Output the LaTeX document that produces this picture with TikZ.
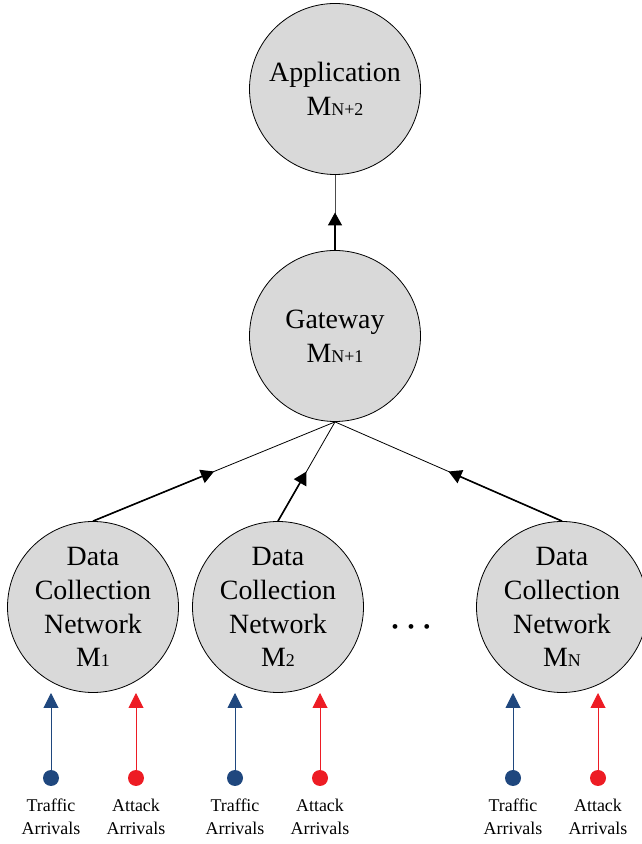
\documentclass[tikz,border=0pt]{standalone}
\usepackage{fontspec}
\setmainfont{Liberation Serif}
\usepackage{tikz}
\usetikzlibrary{arrows.meta,calc,positioning}
\definecolor{nodegray}{RGB}{217,217,217}
\definecolor{trafblue}{RGB}{31,71,126}
\definecolor{attred}{RGB}{237,28,36}
\tikzset{
  station/.style = {circle, draw=black, line width=0.8bp, fill=nodegray,
    minimum size=171bp, inner sep=0pt, align=center,
    font=\fontsize{28}{34}\selectfont},% a queue station
  src/.style = {circle, fill=#1, minimum size=16bp, inner sep=0pt},% arrival source
  srclabel/.style = {align=center, font=\fontsize{18}{23}\selectfont},% arrival label
  feed/.style = {line width=1bp, -{Triangle[length=15bp,width=15bp]}},% arrival arrow
  thinlink/.style = {line width=0.8bp},% link to upper station
  thicklink/.style = {line width=1.6bp, -{Triangle[length=13bp,width=14bp]}}% half arrow
}
\newcommand{\sub}[1]{{\fontsize{18}{18}\selectfont #1}}
\begin{document}
\begin{tikzpicture}[x=1bp,y=1bp]
  \useasboundingbox (0,0) rectangle (642,844);
  % stations
  \node [station] (app) at (335,755) {Application\\M\sub{N+2}};
  \node [station] (gw) at (335,508) {Gateway\\M\sub{N+1}};
  \node [station] (dc1) at (93,237) {Data\\Collection\\Network\\M\sub{1}};
  \node [station] (dc2) at (278,237) {Data\\Collection\\Network\\M\sub{2}};
  \node [station] (dcn) at (562,237) {Data\\Collection\\Network\\M\sub{N}};
  \node (dots) at (411,215) {\fontsize{20}{20}\selectfont
    \textbullet\hspace{9bp}\textbullet\hspace{9bp}\textbullet};
  % links
  \draw [thinlink, black!70] (gw.north) -- (app.south);
  \draw [thicklink] (gw.north) -- ($(gw.north)!0.5!(app.south)$);
  \foreach \n in {dc1,dc2,dcn}{
    \draw [thinlink] (\n.north) -- (gw.south);
    \draw [thicklink] (\n.north) -- ($(\n.north)!0.5!(gw.south)$);
  }
  % arrivals
  \foreach \n/\tx/\ax in {1/51/136, 2/235/320, n/513/598}{
    \node [src=trafblue] (t\n) at (\tx,66) {};
    \node [src=attred] (a\n) at (\ax,66) {};
    \coordinate (t\n end) at (\tx,151);
    \coordinate (a\n end) at (\ax,151);
    \draw [feed, trafblue] (t\n) -- (t\n end);
    \draw [feed, attred] (a\n) -- (a\n end);
    \node [srclabel, below=9bp of t\n] (tl\n) {Traffic\\Arrivals};
    \node [srclabel, below=9bp of a\n] (al\n) {Attack\\Arrivals};
  }
\end{tikzpicture}
\end{document}
